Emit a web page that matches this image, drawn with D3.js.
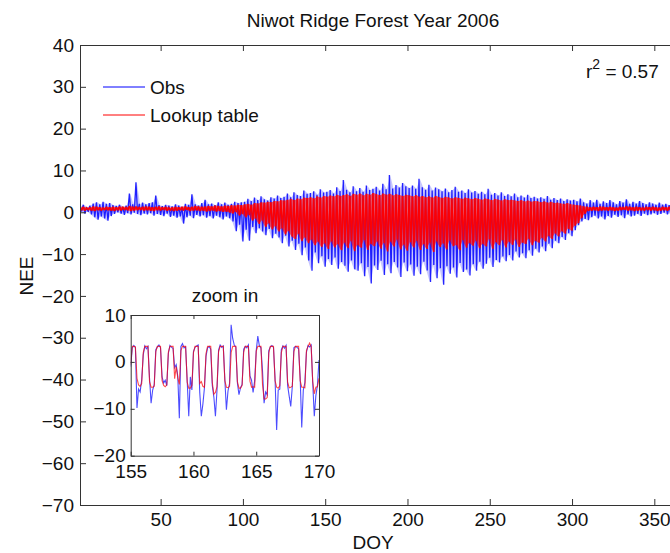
<!DOCTYPE html>
<html>
<head>
<meta charset="utf-8">
<script src="https://cdn.jsdelivr.net/npm/d3@7"></script>
<style>
  body { margin: 0; background: #fff; }
  svg text { font-family: "Liberation Sans", Arial, Helvetica, sans-serif; fill: #111; }
</style>
</head>
<body>
<svg id="chart" width="670" height="553"></svg>
<script>
// Half-hourly NEE condensed to two-day cycles: night-time high and daytime low,
// starting at DOY 1 and stepping two days per entry.
const obsNight = [
  1.4,1.8,1.2,1.6,2.1,2.4,1.9,2.5,2.0,2.2,
  1.7,1.5,1.8,1.3,1.6,4.5,1.9,7.2,2.0,2.3,
  1.9,2.2,2.4,4.0,1.7,1.5,1.8,1.6,1.4,1.9,
  1.6,1.3,2.0,1.8,4.3,1.9,1.6,2.2,3.0,1.9,
  2.1,1.7,2.4,1.9,2.3,1.8,2.0,2.5,2.2,2.4,
  2.5,3.2,2.7,3.5,2.9,3.8,3.1,2.8,3.6,3.3,
  4.0,3.4,3.7,4.5,3.6,4.8,4.1,3.9,5.2,4.4,
  4.6,5.0,4.2,5.5,4.7,4.9,5.3,4.5,6.0,5.1,
  7.7,5.4,4.8,6.2,5.0,5.8,4.9,6.4,5.3,5.6,
  6.1,5.2,6.8,5.5,8.9,5.7,6.5,5.9,7.0,6.2,
  5.8,6.4,5.6,8.0,6.0,5.4,6.6,5.2,5.9,5.5,
  5.0,5.7,4.8,5.3,6.1,4.9,5.2,4.6,5.5,4.7,
  5.1,4.4,4.9,4.3,5.6,4.2,4.6,4.0,4.8,3.9,
  4.3,3.8,4.5,3.6,4.0,3.5,4.2,3.4,3.7,3.3,
  3.6,3.2,3.9,3.0,3.4,2.9,3.3,2.7,3.1,2.8,
  3.0,2.6,3.3,2.4,2.1,2.9,2.3,3.0,2.0,2.6,
  2.2,2.9,2.4,1.9,2.7,2.3,3.1,2.0,2.5,2.1,
  2.7,2.2,1.9,2.4,2.1,1.8,2.3,1.8,2.0,1.7,
  1.8,1.5,1.7
];
const obsDay = [
  0.2,-0.3,0.1,-0.5,-1.2,-1.8,-1.0,-1.5,-2.0,-0.9,
  -0.4,0.0,-0.3,-0.6,-0.2,-0.5,-0.1,-0.4,-0.7,-0.3,
  -0.5,-0.2,-0.8,-0.4,-0.6,-0.9,-0.3,-1.1,-0.8,-1.3,
  -1.0,-2.7,-1.2,-0.8,-1.4,-0.6,-1.0,-0.7,-1.3,-0.9,
  -1.5,-0.8,-1.2,-1.7,-1.0,-1.4,-2.2,-4.5,-3.0,-7.0,
  -4.2,-6.8,-3.5,-5.0,-3.8,-4.6,-5.5,-4.0,-6.2,-5.1,
  -6.0,-7.4,-5.6,-8.2,-6.8,-9.0,-7.5,-10.3,-8.4,-11.5,
  -14.0,-9.6,-12.2,-10.5,-13.0,-11.2,-12.6,-10.8,-13.5,-11.9,
  -12.8,-14.2,-11.5,-13.6,-14.0,-12.2,-15.3,-13.1,-17.0,-12.7,
  -13.8,-11.6,-15.0,-12.4,-14.6,-11.9,-13.2,-15.5,-12.0,-14.1,
  -12.5,-15.2,-13.0,-14.8,-11.8,-13.9,-16.7,-12.6,-15.8,-13.4,
  -17.3,-12.9,-14.7,-13.2,-15.6,-12.1,-14.3,-13.7,-15.1,-12.4,
  -14.0,-11.8,-13.5,-12.3,-10.9,-13.1,-11.4,-12.0,-10.6,-11.7,
  -10.2,-11.5,-9.4,-10.8,-9.8,-11.0,-9.1,-10.4,-8.7,-9.6,
  -8.2,-9.3,-7.5,-8.6,-6.8,-7.4,-5.9,-6.6,-5.0,-5.7,
  -4.3,-3.1,-2.2,-1.6,-1.9,-1.2,-0.8,-1.5,-1.0,-1.7,
  -0.9,-1.3,-0.6,-1.1,-0.7,-1.4,-0.5,-1.0,-0.8,-0.4,
  -0.9,-0.3,-0.7,-0.5,-0.2,-0.6,-0.4,-0.1,-0.5,-0.3,
  -0.2,-0.4,0.0
];
const lutNight = [
  1.2,1.3,1.1,1.2,1.4,1.3,1.2,1.1,1.3,1.2,
  1.3,1.2,1.4,1.3,1.2,1.5,1.3,1.4,1.2,1.3,
  1.4,1.3,1.2,1.3,1.4,1.2,1.3,1.1,1.2,1.3,
  1.2,1.3,1.4,1.2,1.3,1.5,1.4,1.3,1.4,1.5,
  1.4,1.6,1.5,1.4,1.6,1.5,1.7,1.6,1.8,1.7,
  1.9,2.0,1.8,2.2,2.1,2.4,2.3,2.5,2.4,2.7,
  2.6,2.9,2.8,3.0,3.2,2.9,3.3,3.1,3.5,3.4,
  3.6,3.3,3.8,3.5,3.9,3.7,4.0,3.8,4.2,3.9,
  4.1,4.3,3.9,4.4,4.2,4.5,4.0,4.4,4.2,4.6,
  4.3,4.1,4.5,4.2,4.4,4.0,4.3,4.1,3.9,4.2,
  4.0,3.8,4.1,3.7,3.9,3.6,3.8,3.5,3.9,3.6,
  3.4,3.7,3.5,3.3,3.6,3.4,3.2,3.5,3.3,3.1,
  3.4,3.2,3.0,3.3,3.1,2.9,3.2,3.0,2.8,3.1,
  2.9,3.0,2.8,2.7,2.9,2.6,2.8,2.5,2.7,2.6,
  2.4,2.6,2.3,2.5,2.2,2.3,2.1,2.0,2.2,1.9,
  1.8,1.7,1.6,1.4,1.3,1.2,1.3,1.2,1.4,1.3,
  1.2,1.3,1.2,1.1,1.3,1.2,1.4,1.3,1.2,1.3,
  1.2,1.1,1.3,1.2,1.3,1.2,1.1,1.3,1.2,1.3,
  1.2,1.1,1.2
];
const lutDay = [
  0.5,0.4,0.6,0.4,0.3,0.5,0.4,0.6,0.5,0.4,
  0.3,0.5,0.4,0.6,0.5,0.3,0.4,0.5,0.6,0.4,
  0.5,0.4,0.3,0.5,0.4,0.6,0.4,0.5,0.3,0.4,
  0.5,0.4,0.6,0.3,0.4,0.5,0.3,0.4,0.2,0.3,
  0.4,0.2,0.3,0.1,0.2,0.0,-0.3,0.1,-0.8,-0.4,
  -1.2,-0.6,-2.0,-1.4,-2.8,-1.9,-3.5,-2.6,-4.1,-3.3,
  -4.6,-3.8,-5.3,-4.4,-5.8,-6.4,-5.1,-6.9,-6.0,-7.4,
  -6.5,-7.9,-7.0,-8.3,-7.4,-8.8,-6.9,-8.4,-7.6,-9.1,
  -7.2,-8.6,-6.8,-9.3,-7.8,-8.5,-6.6,-9.0,-7.5,-8.1,
  -6.9,-8.7,-7.3,-9.4,-7.0,-8.2,-6.5,-8.9,-7.7,-9.2,
  -7.1,-8.4,-6.8,-9.0,-7.6,-8.8,-7.2,-9.5,-6.9,-8.3,
  -7.4,-8.9,-6.7,-8.1,-7.8,-9.1,-6.6,-8.5,-7.3,-8.0,
  -6.8,-8.6,-7.5,-8.2,-6.4,-8.8,-7.1,-7.9,-6.6,-8.4,
  -7.0,-7.8,-6.5,-8.3,-7.2,-7.6,-6.3,-7.9,-6.8,-7.3,
  -6.1,-7.0,-5.6,-6.4,-5.0,-5.8,-4.5,-5.1,-3.9,-4.4,
  -3.2,-2.6,-1.4,-0.4,0.3,0.4,0.5,0.3,0.4,0.5,
  0.4,0.5,0.3,0.4,0.5,0.6,0.4,0.5,0.3,0.4,
  0.5,0.4,0.6,0.4,0.5,0.3,0.4,0.5,0.4,0.5,
  0.4,0.5,0.4
];

// Zoomed window, DOY 155-170, sampled every 3 hours.
const zoomStart = 155, zoomStep = 0.125;
const obsZoom = [
  -1.0,3.0,3.5,3.1,-9.8,-5.8,-6.4,-3.9,
  1.5,3.4,2.8,3.3,-3.5,-8.8,-6.0,-4.8,
  2.6,3.2,3.6,3.0,-3.2,-4.5,-3.9,-5.1,
  1.8,3.5,3.1,2.9,-1.2,-0.6,-3.0,-12.0,
  3.3,3.9,3.0,3.2,-4.0,-11.6,-3.2,-6.0,
  2.2,3.1,3.4,3.6,-6.5,-11.6,-9.0,-5.5,
  1.2,3.0,3.3,2.7,-5.0,-7.5,-11.6,-6.0,
  2.5,3.6,3.1,3.4,-3.8,-10.2,-6.2,-4.6,
  7.9,5.0,3.6,3.2,-4.5,-7.0,-5.5,-4.8,
  2.7,3.3,3.0,3.6,-3.0,-3.9,-6.5,-4.0,
  2.4,5.5,3.4,3.0,-1.9,-8.8,-6.4,-7.0,
  2.4,3.2,3.5,3.1,-3.6,-14.5,-6.0,-5.8,
  2.6,3.4,2.9,3.5,-5.0,-7.3,-9.5,-5.2,
  3.0,3.3,3.1,2.8,-3.4,-14.0,-6.0,-4.4,
  2.1,3.5,3.2,3.6,-4.4,-11.6,-7.2,-5.0,
  0.4
];
const lutZoom = [
  -0.6,3.3,3.3,3.2,-3.5,-4.9,-5.2,-4.6,
  2.0,3.3,3.3,3.3,-4.2,-5.4,-5.4,-5.2,
  2.2,3.3,3.3,3.3,-4.0,-5.0,-5.3,-4.9,
  2.1,3.3,3.3,3.3,-3.6,-1.0,-3.4,-4.8,
  2.4,3.3,3.3,3.3,-4.3,-5.6,-5.6,-5.0,
  2.0,3.3,3.3,3.3,-4.6,-4.2,-5.2,-5.4,
  1.8,3.3,3.3,3.3,-4.4,-6.9,-6.5,-5.3,
  2.2,3.3,3.3,3.3,-4.0,-5.4,-5.5,-5.2,
  2.0,3.3,3.3,3.3,-4.2,-5.6,-5.6,-5.0,
  2.1,3.3,3.3,3.3,-4.1,-5.4,-5.3,-5.4,
  2.3,3.3,3.3,3.3,-4.8,-7.9,-7.9,-7.6,
  1.9,3.3,3.3,3.3,-4.0,-5.4,-5.6,-5.1,
  2.0,3.3,3.3,3.3,-4.3,-5.5,-5.4,-5.2,
  2.2,3.3,3.3,3.3,-4.0,-5.4,-5.4,-5.5,
  2.4,3.3,4.0,3.3,-4.2,-6.8,-5.4,-5.3,
  -3.5
];

const xTicks = [50, 100, 150, 200, 250, 300, 350];
const yTicks = [-70, -60, -50, -40, -30, -20, -10, 0, 10, 20, 30, 40];
const zoomXTicks = [155, 160, 165, 170];
const zoomYTicks = [-20, -10, 0, 10];

const FONT = 19;
const AXIS = "#333";
const BLUE = "#0000ff", RED = "#ff0000";

const svg = d3.select("#chart");

// ---- main axes ----
const x = d3.scaleLinear().domain([1, 365]).range([80, 679]);
const y = d3.scaleLinear().domain([-70, 40]).range([505, 45]);

svg.append("clipPath").attr("id", "mainClip")
  .append("rect").attr("x", 80).attr("y", 45).attr("width", 599).attr("height", 460);

// Turn a night/day pair of arrays into a zig-zag trace: one cycle every two days.
function cycles(night, day) {
  const pts = [];
  night.forEach((v, i) => {
    pts.push([1 + 2 * i, v]);
    pts.push([2 + 2 * i, day[i]]);
  });
  return pts;
}
const line = d3.line().x(d => x(d[0])).y(d => y(d[1]));
// Filled envelope between the daytime low and night-time high of each cycle.
const band = (night, day) => d3.area()
  .x((d, i) => x(1.5 + 2 * i))
  .y0((d, i) => y(day[i]))
  .y1((d, i) => y(night[i]))(night);

const plot = svg.append("g").attr("clip-path", "url(#mainClip)");
plot.append("path").attr("d", band(obsNight, obsDay))
  .attr("fill", BLUE).attr("fill-opacity", 0.22);
plot.append("path").datum(cycles(obsNight, obsDay))
  .attr("d", line).attr("fill", "none").attr("stroke", BLUE)
  .attr("stroke-width", 1.3).attr("stroke-opacity", 0.85)
  .attr("stroke-linejoin", "miter").attr("stroke-miterlimit", 2);
plot.append("path").attr("d", band(lutNight, lutDay))
  .attr("fill", RED).attr("fill-opacity", 0.6);
plot.append("path").datum(cycles(lutNight, lutDay))
  .attr("d", line).attr("fill", "none").attr("stroke", RED)
  .attr("stroke-width", 1.4).attr("stroke-opacity", 0.95)
  .attr("stroke-linejoin", "miter").attr("stroke-miterlimit", 2);

function styleAxis(g) {
  g.selectAll("path,line").attr("stroke", AXIS).attr("stroke-width", 1);
  g.selectAll("text").attr("font-size", FONT).attr("fill", "#111")
    .attr("font-family", '"Liberation Sans", Arial, sans-serif');
}

svg.append("g").attr("transform", "translate(0,505)")
  .call(d3.axisBottom(x).tickValues(xTicks).tickSizeInner(-6).tickSizeOuter(0).tickPadding(8))
  .call(styleAxis);
svg.append("g").attr("transform", "translate(0,45)")
  .call(d3.axisTop(x).tickValues(xTicks).tickSizeInner(-6).tickSizeOuter(0).tickFormat(""))
  .call(styleAxis);
svg.append("g").attr("transform", "translate(80,0)")
  .call(d3.axisLeft(y).tickValues(yTicks).tickSizeInner(-6).tickSizeOuter(0).tickPadding(6))
  .call(styleAxis);
svg.append("g").attr("transform", "translate(679,0)")
  .call(d3.axisRight(y).tickValues(yTicks).tickSizeInner(-6).tickSizeOuter(0).tickFormat(""))
  .call(styleAxis);

// titles
svg.append("text").attr("x", 373).attr("y", 27).attr("text-anchor", "middle")
  .attr("font-size", FONT).text("Niwot Ridge Forest Year 2006");
svg.append("text").attr("x", 373).attr("y", 549).attr("text-anchor", "middle")
  .attr("font-size", FONT).text("DOY");
svg.append("text").attr("transform", "translate(33,276) rotate(-90)")
  .attr("text-anchor", "middle").attr("font-size", FONT).text("NEE");

// legend
const legend = [["Obs", BLUE, 87], ["Lookup table", RED, 115]];
legend.forEach(([label, color, ly]) => {
  svg.append("line").attr("x1", 103).attr("x2", 145).attr("y1", ly).attr("y2", ly)
    .attr("stroke", color).attr("stroke-width", 1);
  svg.append("text").attr("x", 150).attr("y", ly + 7).attr("font-size", FONT).text(label);
});

// goodness of fit
const r2 = svg.append("text").attr("x", 586).attr("y", 78).attr("font-size", FONT);
r2.append("tspan").text("r");
r2.append("tspan").attr("font-size", 14).attr("dy", -9).text("2");
r2.append("tspan").attr("dy", 9).text(" = 0.57");

// ---- zoomed inset ----
const xi = d3.scaleLinear().domain([155, 170]).range([130.7, 319]);
const yi = d3.scaleLinear().domain([-20, 10]).range([455.7, 315]);

svg.append("rect").attr("x", 130.7).attr("y", 315).attr("width", 188.3).attr("height", 140.7)
  .attr("fill", "#fff");
svg.append("clipPath").attr("id", "zoomClip")
  .append("rect").attr("x", 130.7).attr("y", 315).attr("width", 188.3).attr("height", 140.7);

const zline = d3.line().x((d, i) => xi(zoomStart + i * zoomStep)).y(d => yi(d));
const inset = svg.append("g").attr("clip-path", "url(#zoomClip)");
inset.append("path").datum(obsZoom).attr("d", zline).attr("fill", "none")
  .attr("stroke", BLUE).attr("stroke-width", 1.1).attr("stroke-opacity", 0.7);
inset.append("path").datum(lutZoom).attr("d", zline).attr("fill", "none")
  .attr("stroke", RED).attr("stroke-width", 1.1).attr("stroke-opacity", 0.7);

svg.append("g").attr("transform", "translate(0,455.7)")
  .call(d3.axisBottom(xi).tickValues(zoomXTicks).tickSizeInner(-4).tickSizeOuter(0).tickPadding(9))
  .call(styleAxis);
svg.append("g").attr("transform", "translate(0,315)")
  .call(d3.axisTop(xi).tickValues(zoomXTicks).tickSizeInner(-4).tickSizeOuter(0).tickFormat(""))
  .call(styleAxis);
svg.append("g").attr("transform", "translate(130.7,0)")
  .call(d3.axisLeft(yi).tickValues(zoomYTicks).tickSizeInner(-4).tickSizeOuter(0).tickPadding(5))
  .call(styleAxis);
svg.append("g").attr("transform", "translate(319,0)")
  .call(d3.axisRight(yi).tickValues(zoomYTicks).tickSizeInner(-4).tickSizeOuter(0).tickFormat(""))
  .call(styleAxis);

svg.append("text").attr("x", 225).attr("y", 302).attr("text-anchor", "middle")
  .attr("font-size", FONT).text("zoom in");
</script>
</body>
</html>
